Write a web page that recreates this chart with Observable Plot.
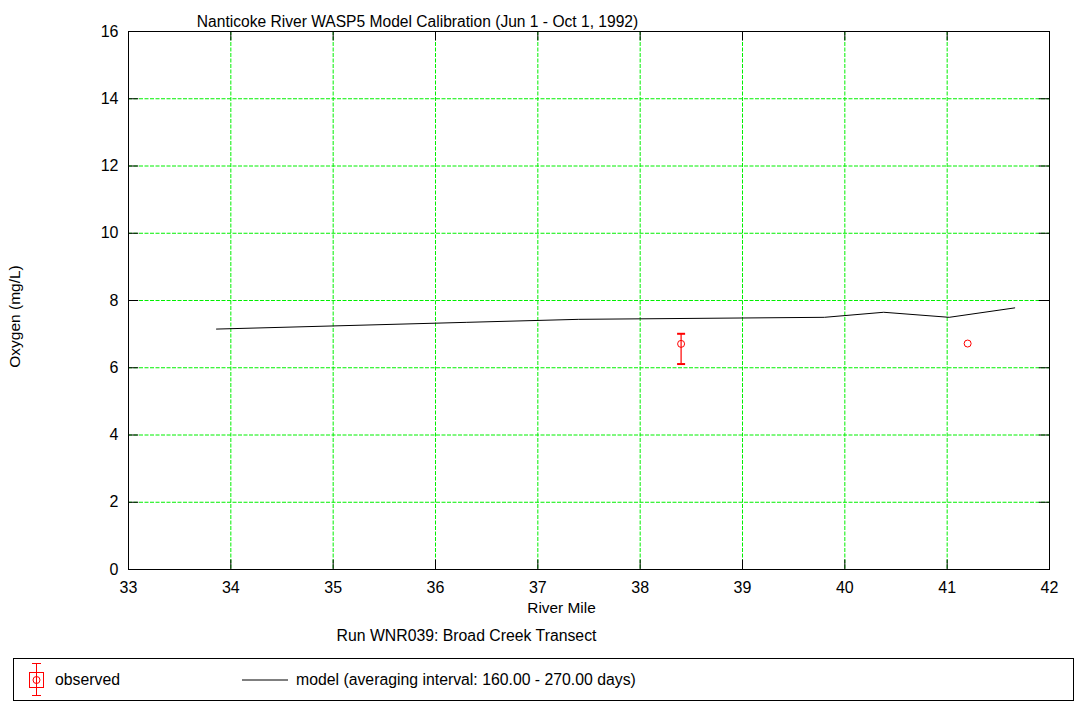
<!DOCTYPE html>
<html>
<head>
<meta charset="utf-8">
<script src="https://cdn.jsdelivr.net/npm/d3@7"></script>
<script src="https://cdn.jsdelivr.net/npm/@observablehq/plot@0.6"></script>
<style>
  html, body { margin: 0; padding: 0; background: #fff; font-family: "Liberation Sans", Arial, sans-serif; }
  #chart svg { display: block; }
  #legend { position: relative; margin-left: 13px; width: 1061px; height: 43px; border: 1px solid #000; box-sizing: border-box; font-size: 15.8px; color: #000; }
  #legend .item { position: absolute; top: 0; height: 41px; display: flex; align-items: center; }
</style>
</head>
<body>
<div id="chart"></div>
<div id="legend">
  <div class="item" style="left:14px">
    <svg width="18" height="35" style="margin-right:9px">
      <g stroke="#ff0000" fill="none" stroke-width="1">
        <line x1="8.5" y1="1" x2="8.5" y2="34"/>
        <line x1="4" y1="1.5" x2="13" y2="1.5"/>
        <line x1="4" y1="33.5" x2="13" y2="33.5"/>
        <rect x="1.5" y="10.5" width="14" height="15"/>
        <circle cx="8.5" cy="18" r="3.5"/>
      </g>
    </svg>
    <span>observed</span>
  </div>
  <div class="item" style="left:228px">
    <svg width="47" height="10" style="margin-right:7px"><line x1="0" y1="5" x2="46" y2="5" stroke="#000" stroke-width="1"/></svg>
    <span>model (averaging interval: 160.00 - 270.00 days)</span>
  </div>
</div>
<script>
const titleText = "Nanticoke River WASP5 Model Calibration (Jun 1 - Oct 1, 1992)";
const xLabel = "River Mile";
const yLabel = "Oxygen (mg/L)";
const caption = "Run WNR039: Broad Creek Transect";

const xTicks = [33, 34, 35, 36, 37, 38, 39, 40, 41, 42];
const yTicks = [0, 2, 4, 6, 8, 10, 12, 14, 16];

// model line
const modelMile = [33.86, 36.3, 37.4, 39.8, 40.38, 41.02, 41.66];
const modelDO   = [7.15, 7.35, 7.44, 7.50, 7.65, 7.50, 7.78];

// observed
const obsMile = [38.40, 41.20];
const obsMean = [6.71, 6.72];
const obsMin  = [6.11, 6.72];
const obsMax  = [7.01, 6.72];

const model = modelMile.map((m, i) => ({mile: m, value: modelDO[i]}));
const obs = obsMile.map((m, i) => ({mile: m, mean: obsMean[i], lo: obsMin[i], hi: obsMax[i]}));
const obsBars = obs.filter(d => d.hi > d.lo);
const caps = obsBars.flatMap(d => [{mile: d.mile, v: d.lo}, {mile: d.mile, v: d.hi}]);

const capSymbol = {
  draw(context, size) {
    const r = Math.sqrt(size / Math.PI);
    context.moveTo(-r, 0);
    context.lineTo(r, 0);
  }
};

const green = "#00f000";
const innerX = xTicks.slice(1, -1);
const innerY = yTicks.slice(1, -1);

const chart = Plot.plot({
  width: 1075,
  height: 658,
  marginTop: 31,
  marginBottom: 89,
  marginLeft: 128,
  marginRight: 26,
  style: {fontFamily: "Liberation Sans, Arial, sans-serif", fontSize: "16px", background: "#fff"},
  x: {domain: [33, 42], ticks: xTicks, label: null},
  y: {domain: [0, 16], ticks: yTicks, label: null},
  marks: [
    Plot.gridX(innerX, {stroke: green, strokeOpacity: 1, strokeDasharray: "4,1.5"}),
    Plot.gridY(innerY, {stroke: green, strokeOpacity: 1, strokeDasharray: "4,1.5"}),
    // inner tick marks
    Plot.ruleX(innerX, {y1: 0, y2: 0.28, stroke: "#000"}),
    Plot.ruleX(innerX, {y1: 16, y2: 15.72, stroke: "#000"}),
    Plot.ruleY(innerY, {x1: 33, x2: 33.1, stroke: "#000"}),
    Plot.ruleY(innerY, {x1: 42, x2: 41.9, stroke: "#000"}),
    Plot.frame({stroke: "#000", strokeWidth: 1}),
    Plot.axisX(xTicks, {tickSize: 0, tickPadding: 12, fontSize: 16}),
    Plot.axisY(yTicks, {tickSize: 0, tickPadding: 10, fontSize: 16}),
    Plot.line(model, {x: "mile", y: "value", stroke: "#000", strokeWidth: 1}),
    Plot.ruleX(obsBars, {x: "mile", y1: "lo", y2: "hi", stroke: "#ff0000", strokeWidth: 1.2}),
    Plot.dot(caps, {x: "mile", y: "v", symbol: capSymbol, r: 4, stroke: "#ff0000", strokeWidth: 2}),
    Plot.dot(obs, {x: "mile", y: "mean", r: 3.5, stroke: "#ff0000", fill: "none", strokeWidth: 1}),
    Plot.text([titleText], {frameAnchor: "top-left", dx: 289, dy: -15.5, textAnchor: "middle", fontSize: 15.6}),
    Plot.text([xLabel], {frameAnchor: "bottom-left", dx: 433, dy: 43, textAnchor: "middle", fontSize: 15.4}),
    Plot.text([caption], {frameAnchor: "bottom-left", dx: 338, dy: 71, textAnchor: "middle", fontSize: 15.8}),
    Plot.text([yLabel], {frameAnchor: "left", dx: -113, dy: 16, rotate: -90, textAnchor: "middle", fontSize: 15.5})
  ]
});
document.getElementById("chart").appendChild(chart);
</script>
</body>
</html>
